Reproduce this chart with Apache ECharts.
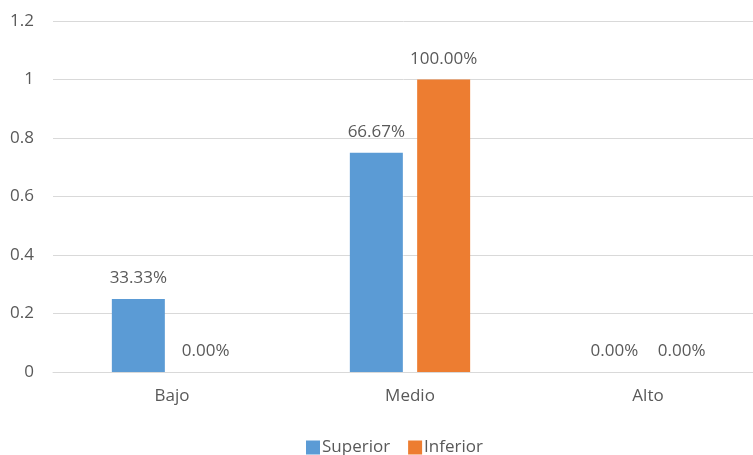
<!DOCTYPE html>
<html>
<head>
<meta charset="utf-8">
<script src="https://cdn.jsdelivr.net/npm/echarts@6/dist/echarts.min.js"></script>
<style>
html, body { margin: 0; padding: 0; background: #fff; }
#container { width: 753px; height: 455px; }
</style>
</head>
<body>
<div id="container"></div>
<script>
var categories = ['Bajo', 'Medio', 'Alto'];
var superiorValues = [0.25, 0.75, 0];
var inferiorValues = [0, 1, 0];
var superiorLabels = ['33.33%', '66.67%', '0.00%'];
var inferiorLabels = ['0.00%', '100.00%', '0.00%'];
var yTicks = [0, 0.2, 0.4, 0.6, 0.8, 1, 1.2];

var textFont = 'Open Sans';
var textColor = '#595959';
var fontSize = 17;

function labelFrom(list) {
	return function (p) { return list[p.dataIndex]; };
}

var myChart = echarts.init(document.getElementById('container'));
var option = {
	animation: false,
	color: ['#5B9BD5', '#ED7D31'],
	// plot runs a little past the right edge, like the original
	grid: { left: 53, width: 714, top: 21, bottom: 83, outerBoundsMode: 'none' },
	legend: {
		bottom: -6,
		left: 301,
		itemWidth: 14,
		itemHeight: 14,
		itemGap: 18,
		icon: 'rect',
		textStyle: { fontFamily: textFont, fontSize: fontSize, color: textColor, padding: [0, 0, 0, -3] },
		data: ['Superior', 'Inferior']
	},
	xAxis: {
		type: 'category',
		data: categories,
		axisLine: { lineStyle: { color: '#d9d9d9' } },
		axisTick: { show: false },
		axisLabel: { fontFamily: textFont, fontSize: fontSize, color: textColor, margin: 16 }
	},
	yAxis: {
		type: 'value',
		min: yTicks[0],
		max: yTicks[yTicks.length - 1],
		interval: 0.2,
		axisLine: { show: false },
		axisTick: { show: false },
		splitLine: { lineStyle: { color: '#d9d9d9' } },
		axisLabel: {
			fontFamily: textFont, fontSize: fontSize, color: textColor, margin: 19,
			formatter: function (v) { return String(+v.toFixed(1)); }
		}
	},
	series: [
		{
			name: 'Superior',
			type: 'bar',
			barWidth: 53,
			barGap: '27%',
			data: superiorValues,
			label: {
				show: true, position: 'top', distance: 12,
				fontFamily: textFont, fontSize: fontSize, color: textColor,
				formatter: labelFrom(superiorLabels)
			}
		},
		{
			name: 'Inferior',
			type: 'bar',
			barWidth: 53,
			data: inferiorValues,
			label: {
				show: true, position: 'top', distance: 12,
				fontFamily: textFont, fontSize: fontSize, color: textColor,
				formatter: labelFrom(inferiorLabels)
			}
		}
	]
};
myChart.setOption(option);
</script>
</body>
</html>
